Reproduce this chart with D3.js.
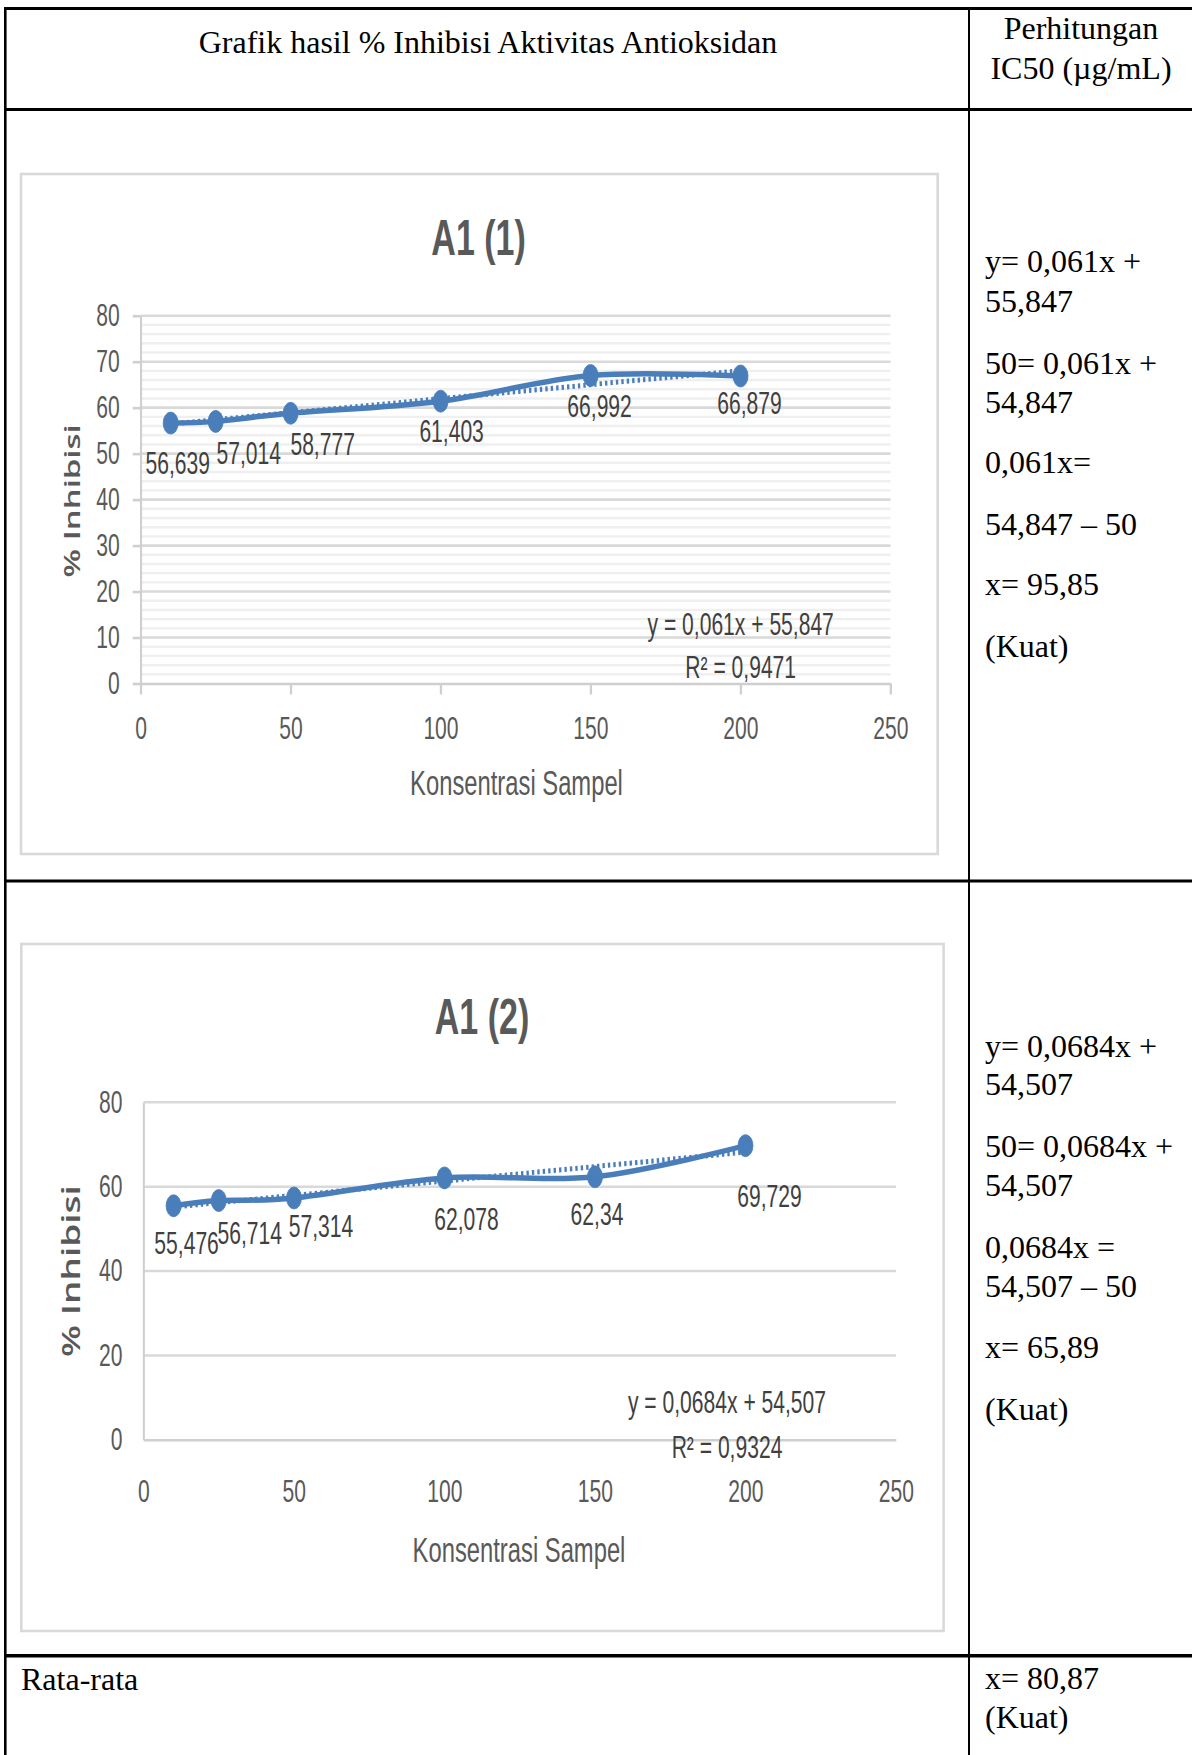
<!DOCTYPE html>
<html>
<head>
<meta charset="utf-8">
<script src="https://cdn.jsdelivr.net/npm/d3@7"></script>
<style>
html, body { margin: 0; padding: 0; background: #fff; }
svg { display: block; }
</style>
</head>
<body>
<svg id="page" width="1192" height="1755"></svg>
<script>
// ---------------- DATA ----------------
const concentration = [10, 25, 50, 100, 150, 200];
const inhibitionA1_1 = [56.639, 57.014, 58.777, 61.403, 66.992, 66.879];
const inhibitionA1_2 = [55.476, 56.714, 57.314, 62.078, 62.34, 69.729];
const xTickValues = [0, 50, 100, 150, 200, 250];
const yTicksA1_1 = [0, 10, 20, 30, 40, 50, 60, 70, 80];
const yTicksA1_2 = [0, 20, 40, 60, 80];
const chartTitles = ["A1 (1)", "A1 (2)"];
const xAxisTitle = "Konsentrasi Sampel";
const yAxisTitle = "% Inhibisi";
const equationA1_1 = ["y = 0,061x + 55,847", "R² = 0,9471"];
const equationA1_2 = ["y = 0,0684x + 54,507", "R² = 0,9324"];
const headerLeft = "Grafik hasil % Inhibisi Aktivitas Antioksidan";
const headerRight = ["Perhitungan", "IC50 (µg/mL)"];
const calcA1_1 = ["y= 0,061x +", "55,847", "50= 0,061x +", "54,847", "0,061x=", "54,847 – 50", "x= 95,85", "(Kuat)"];
const calcA1_2 = ["y= 0,0684x +", "54,507", "50= 0,0684x +", "54,507", "0,0684x =", "54,507 – 50", "x= 65,89", "(Kuat)"];
const footerLeft = "Rata-rata";
const footerRight = ["x= 80,87", "(Kuat)"];

// ---------------- LAYOUT ----------------
const SX = 0.68; // horizontal squeeze of the embedded charts
const BLUE = "#4a7ebb";
const CHART_FONT = "'Liberation Sans', Arial, sans-serif";
const SERIF = "'Liberation Serif', 'Times New Roman', serif";

const svg = d3.select("#page");
svg.append("rect").attr("width", 1192).attr("height", 1755).attr("fill", "#fff");

// table lines
const hLines = [{y: 8.5, w: 3}, {y: 109.5, w: 3}, {y: 881, w: 3}, {y: 1655.7, w: 3.5}];
svg.selectAll(null).data(hLines).join("line")
  .attr("x1", 4).attr("x2", 1192).attr("y1", d => d.y).attr("y2", d => d.y)
  .attr("stroke", "#000").attr("stroke-width", d => d.w);
svg.append("line").attr("x1", 5.3).attr("x2", 5.3).attr("y1", 7).attr("y2", 1755)
  .attr("stroke", "#000").attr("stroke-width", 2.6);
svg.append("line").attr("x1", 969).attr("x2", 969).attr("y1", 7).attr("y2", 1755)
  .attr("stroke", "#000").attr("stroke-width", 2);

function serifText(str, x, y, anchor) {
  svg.append("text").attr("x", x).attr("y", y)
    .attr("text-anchor", anchor || "start")
    .attr("font-family", SERIF).attr("font-size", 32).attr("fill", "#000")
    .text(str);
}
serifText(headerLeft, 488, 52.5, "middle");
serifText(headerRight[0], 1081, 38.8, "middle");
serifText(headerRight[1], 1081, 79, "middle");

const calcBaselines1 = [271.7, 312.0, 373.5, 412.7, 473.1, 534.7, 595.1, 656.7];
const calcBaselines2 = [1057.4, 1095.4, 1157.0, 1196.2, 1257.7, 1296.9, 1358.4, 1420.0];
calcA1_1.forEach((s, i) => serifText(s, 985, calcBaselines1[i]));
calcA1_2.forEach((s, i) => serifText(s, 985, calcBaselines2[i]));
serifText(footerLeft, 21, 1689.5);
serifText(footerRight[0], 985, 1689);
serifText(footerRight[1], 985, 1728);

// ---------------- CHARTS ----------------
const charts = [
  {
    values: inhibitionA1_1, title: chartTitles[0], equation: equationA1_1,
    yTicks: yTicksA1_1, minorStep: 2, yMax: 80,
    box: [21, 174, 937.7, 854],
    plot: {left: 140.7, right: 890.5, top: 315.7, bottom: 683.5},
    yTickLen: 8, xTickLen: 11, xLabelTop: 717,
    titlePos: [478.6, 255], yTitlePos: [71, 500.8], yTitleSize: 33,
    xTitlePos: [516.5, 795], eqPos: [740.7, 635, 677.7],
    labelDx: [7, 33, 32, 11, 9, 9], labelDy: [40, 31, 31, 30, 30, 27]
  },
  {
    values: inhibitionA1_2, title: chartTitles[1], equation: equationA1_2,
    yTicks: yTicksA1_2, minorStep: 0, yMax: 80,
    box: [21.3, 944, 943.6, 1631],
    plot: {left: 143.5, right: 896, top: 1102.3, bottom: 1439.8},
    yTickLen: 0, xTickLen: 0, xLabelTop: 1480,
    titlePos: [482, 1034], yTitlePos: [70.5, 1271], yTitleSize: 37,
    xTitlePos: [519, 1562], eqPos: [727, 1413, 1458],
    labelDx: [13, 31, 27, 22, 2, 24], labelDy: [37, 32, 28, 41, 37, 50]
  }
];

function linReg(xs, ys) {
  const mx = d3.mean(xs), my = d3.mean(ys);
  let sxy = 0, sxx = 0;
  xs.forEach((xv, i) => { sxy += (xv - mx) * (ys[i] - my); sxx += (xv - mx) ** 2; });
  const slope = sxy / sxx;
  return {slope, intercept: my - slope * mx};
}

function drawChart(c) {
  svg.append("rect")
    .attr("x", c.box[0]).attr("y", c.box[1])
    .attr("width", c.box[2] - c.box[0]).attr("height", c.box[3] - c.box[1])
    .attr("fill", "#fff").attr("stroke", "#d9d9d9").attr("stroke-width", 2.6);

  const g = svg.append("g").attr("transform", `scale(${SX},1)`);
  const u = v => v / SX;
  const x = d3.scaleLinear().domain([0, 250]).range([u(c.plot.left), u(c.plot.right)]);
  const y = d3.scaleLinear().domain([0, c.yMax]).range([c.plot.bottom, c.plot.top]);

  // minor gridlines
  if (c.minorStep) {
    const minor = d3.range(0, c.yMax, c.minorStep).filter(v => !c.yTicks.includes(v));
    g.selectAll(null).data(minor).join("line")
      .attr("x1", x(0)).attr("x2", x(250))
      .attr("y1", d => y(d)).attr("y2", d => y(d))
      .attr("stroke", "#efefef").attr("stroke-width", 2.4);
  }
  // major gridlines
  g.selectAll(null).data(c.yTicks.filter(v => v > 0)).join("line")
    .attr("x1", x(0)).attr("x2", x(250))
    .attr("y1", d => y(d)).attr("y2", d => y(d))
    .attr("stroke", "#d9d9d9").attr("stroke-width", 2.6);

  // y axis
  const yAxis = g.append("g").attr("transform", `translate(${x(0)},0)`)
    .call(d3.axisLeft(y).tickValues(c.yTicks).tickSize(u(c.yTickLen)).tickSizeOuter(0)
      .tickPadding(u(21 - c.yTickLen)).tickFormat(d3.format("d")));
  yAxis.select(".domain").attr("stroke", "#cfcfcf").attr("stroke-width", 3);
  yAxis.selectAll(".tick line").attr("stroke", "#cfcfcf").attr("stroke-width", 2.6);
  yAxis.selectAll("text").attr("font-family", CHART_FONT).attr("font-size", 31).attr("fill", "#595959");

  // x axis
  const xAxis = g.append("g").attr("transform", `translate(0,${y(0)})`)
    .call(d3.axisBottom(x).tickValues(xTickValues).tickSize(c.xTickLen).tickSizeOuter(0)
      .tickPadding(c.xLabelTop - c.plot.bottom - c.xTickLen).tickFormat(d3.format("d")));
  xAxis.select(".domain").attr("stroke", "#cfcfcf").attr("stroke-width", 2.6);
  xAxis.selectAll(".tick line").attr("stroke", "#cfcfcf").attr("stroke-width", 3.4);
  xAxis.selectAll("text").attr("font-family", CHART_FONT).attr("font-size", 31).attr("fill", "#595959");

  const pts = concentration.map((cx, i) => [x(cx), y(c.values[i])]);

  // series line (smoothed)
  g.append("path").datum(pts)
    .attr("d", d3.line().curve(d3.curveCardinal.tension(0)))
    .attr("fill", "none").attr("stroke", BLUE).attr("stroke-width", 5.5)
    .attr("stroke-linejoin", "round");

  // linear trendline
  const reg = linReg(concentration, c.values);
  const x0 = d3.min(concentration), x1 = d3.max(concentration);
  g.append("line")
    .attr("x1", x(x0)).attr("y1", y(reg.intercept + reg.slope * x0))
    .attr("x2", x(x1)).attr("y2", y(reg.intercept + reg.slope * x1))
    .attr("stroke", BLUE).attr("stroke-width", 5)
    .attr("stroke-dasharray", "3.5 4.5");

  // markers
  g.selectAll(null).data(pts).join("circle")
    .attr("cx", d => d[0]).attr("cy", d => d[1]).attr("r", 11)
    .attr("fill", BLUE).attr("stroke", BLUE).attr("stroke-width", 1);

  // data labels
  g.selectAll(null).data(c.values).join("text")
    .attr("x", (v, i) => x(concentration[i]) + u(c.labelDx[i]))
    .attr("y", (v, i) => y(v) + c.labelDy[i])
    .attr("dy", "0.36em").attr("text-anchor", "middle")
    .attr("font-family", CHART_FONT).attr("font-size", 31).attr("fill", "#404040")
    .text(v => String(v).replace(".", ","));

  // title
  g.append("text").attr("x", u(c.titlePos[0])).attr("y", c.titlePos[1])
    .attr("text-anchor", "middle").attr("font-family", CHART_FONT)
    .attr("font-weight", "bold").attr("font-size", 50).attr("fill", "#595959")
    .text(c.title);

  // axis titles
  g.append("text").attr("x", u(c.xTitlePos[0])).attr("y", c.xTitlePos[1])
    .attr("text-anchor", "middle").attr("font-family", CHART_FONT)
    .attr("font-size", 35).attr("fill", "#595959").text(xAxisTitle);
  g.append("text")
    .attr("transform", `translate(${u(c.yTitlePos[0])},${c.yTitlePos[1]}) rotate(-90)`)
    .attr("text-anchor", "middle").attr("dominant-baseline", "central")
    .attr("font-family", "'Open Sans', sans-serif").attr("font-weight", 600)
    .attr("font-size", c.yTitleSize).attr("fill", "#595959").text(yAxisTitle);

  // trendline equation
  c.equation.forEach((s, i) => {
    g.append("text").attr("x", u(c.eqPos[0])).attr("y", c.eqPos[1 + i])
      .attr("text-anchor", "middle").attr("font-family", CHART_FONT)
      .attr("font-size", 31).attr("fill", "#404040").text(s);
  });
}

charts.forEach(drawChart);
</script>
</body>
</html>
